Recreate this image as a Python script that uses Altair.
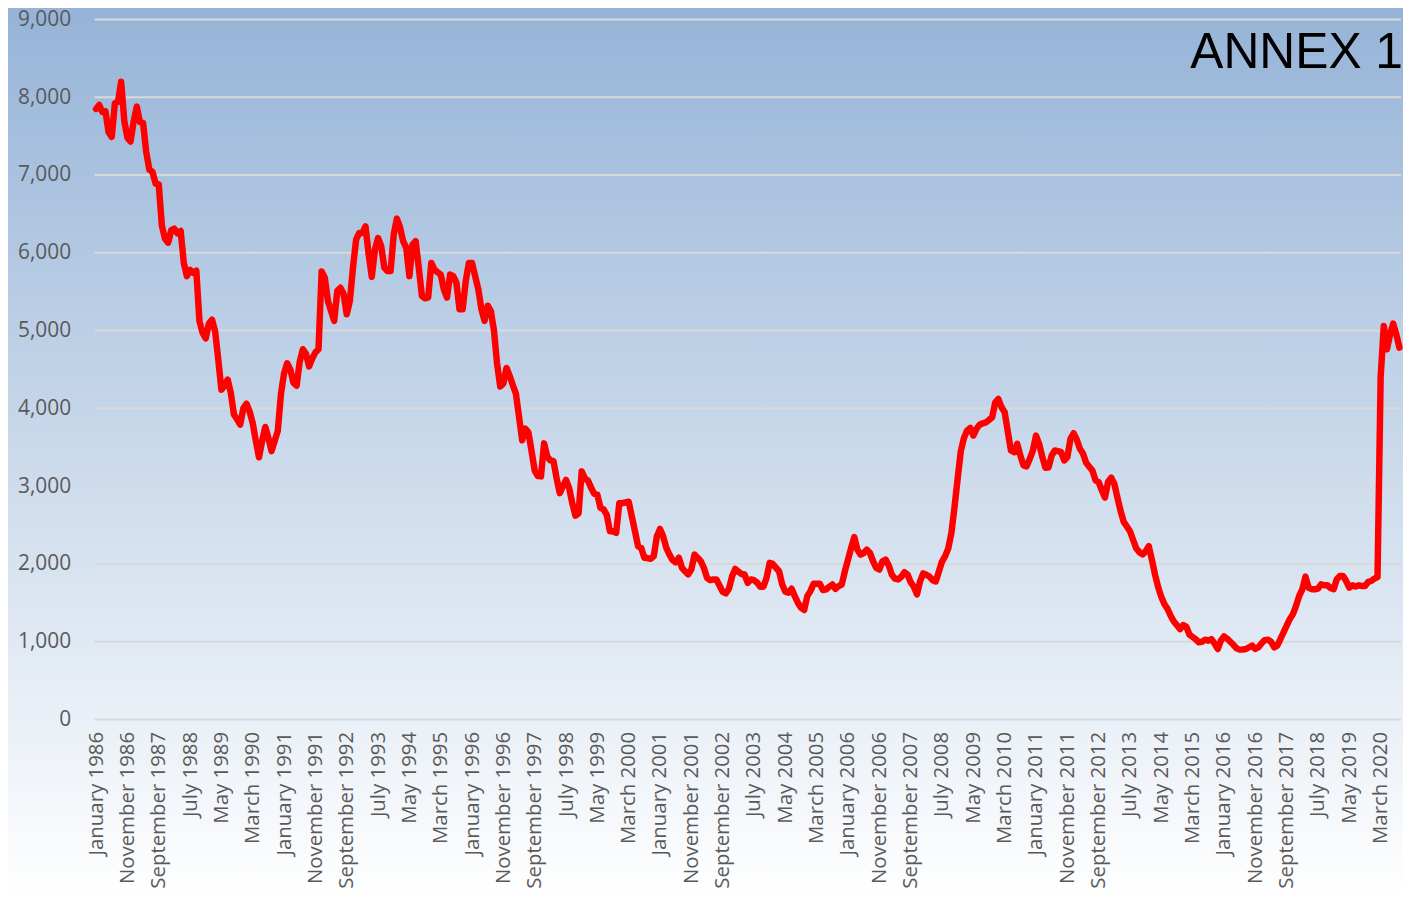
import altair as alt
import pandas as pd

# Monthly series, January 1986 .. September 2020 (one row per year)
values = [
    7850, 7900, 7810, 7820, 7550, 7490, 7920, 7940, 8200, 7700, 7480, 7430,  # 1986
    7690, 7880, 7680, 7670, 7300, 7070, 7040, 6890, 6880, 6350, 6180, 6130,  # 1987
    6290, 6310, 6250, 6280, 5870, 5700, 5780, 5740, 5770, 5120, 4970, 4900,  # 1988
    5090, 5140, 4990, 4630, 4240, 4290, 4370, 4200, 3920, 3860, 3790, 4000,  # 1989
    4060, 3960, 3810, 3580, 3370, 3580, 3760, 3620, 3450, 3580, 3710, 4180,  # 1990
    4450, 4580, 4500, 4330, 4290, 4600, 4760, 4700, 4540, 4640, 4720, 4760,  # 1991
    5760, 5680, 5380, 5250, 5125, 5510, 5550, 5470, 5210, 5380, 5810, 6170,  # 1992
    6255, 6255, 6340, 5980, 5690, 6040, 6190, 6085, 5810, 5765, 5765, 6235,  # 1993
    6440, 6330, 6150, 6065, 5700, 6105, 6150, 5810, 5445, 5415, 5425, 5870,  # 1994
    5785, 5750, 5720, 5530, 5425, 5720, 5700, 5615, 5275, 5275, 5640, 5870,  # 1995
    5870, 5700, 5530, 5275, 5125, 5320, 5250, 5000, 4570, 4280, 4320, 4520,  # 1996
    4420, 4300, 4190, 3890, 3590, 3740, 3690, 3450, 3200, 3130, 3125, 3550,  # 1997
    3380, 3330, 3320, 3100, 2910, 3000, 3080, 2975, 2780, 2620, 2650, 3190,  # 1998
    3100, 3070, 2980, 2900, 2890, 2720, 2700, 2630, 2420, 2420, 2400, 2780,  # 1999
    2780, 2790, 2800, 2610, 2420, 2225, 2205, 2080, 2075, 2065, 2100, 2355,  # 2000
    2450, 2355, 2205, 2120, 2050, 2020, 2080, 1950, 1905, 1865, 1930, 2120,  # 2001
    2080, 2035, 1950, 1820, 1790, 1800, 1800, 1720, 1640, 1620, 1680, 1840,  # 2002
    1936, 1900, 1870, 1863, 1757, 1800, 1790, 1760, 1706, 1706, 1820, 2013,  # 2003
    2000, 1950, 1906, 1735, 1642, 1629, 1680, 1586, 1501, 1437, 1407, 1586,  # 2004
    1650, 1744, 1744, 1744, 1663, 1672, 1706, 1735, 1680, 1714, 1735, 1906,  # 2005
    2055, 2205, 2345, 2183, 2119, 2140, 2183, 2140, 2034, 1949, 1928, 2034,  # 2006
    2055, 1980, 1860, 1810, 1800, 1834, 1893, 1863, 1765, 1706, 1608, 1776,  # 2007
    1878, 1860, 1838, 1790, 1774, 1902, 2030, 2100, 2200, 2400, 2733, 3100,  # 2008
    3450, 3620, 3714, 3748, 3650, 3736, 3790, 3808, 3820, 3850, 3885, 4077,  # 2009
    4120, 4013, 3949, 3700, 3458, 3437, 3544, 3394, 3267, 3254, 3350, 3458,  # 2010
    3650, 3540, 3380, 3237, 3240, 3394, 3458, 3450, 3437, 3330, 3373, 3608,  # 2011
    3680, 3600, 3480, 3420, 3300, 3250, 3200, 3075, 3053, 2947, 2853, 3053,  # 2012
    3109, 3030, 2850, 2680, 2540, 2480, 2420, 2307, 2200, 2150, 2122, 2164,  # 2013
    2228, 2050, 1860, 1700, 1576, 1482, 1420, 1330, 1260, 1210, 1162, 1213,  # 2014
    1190, 1090, 1060, 1030, 991, 1000, 1026, 1013, 1034, 975, 906, 1013,     # 2015
    1068, 1040, 1000, 960, 915, 898, 900, 906, 928, 949, 906, 928,           # 2016
    980, 1020, 1026, 1000, 928, 949, 1034, 1119, 1205, 1290, 1354, 1460,     # 2017
    1588, 1674, 1836, 1695, 1674, 1674, 1682, 1738, 1725, 1725, 1690, 1674,  # 2018
    1802, 1844, 1844, 1780, 1695, 1725, 1708, 1725, 1716, 1716, 1768, 1780,  # 2019
    1810, 1830, 4400, 5060, 4760, 4950, 5090, 4950, 4780,                    # 2020
]

first_month = "1986-01-01"

tick_labels = [
    "January 1986", "November 1986", "September 1987", "July 1988", "May 1989",
    "March 1990", "January 1991", "November 1991", "September 1992", "July 1993",
    "May 1994", "March 1995", "January 1996", "November 1996", "September 1997",
    "July 1998", "May 1999", "March 2000", "January 2001", "November 2001",
    "September 2002", "July 2003", "May 2004", "March 2005", "January 2006",
    "November 2006", "September 2007", "July 2008", "May 2009", "March 2010",
    "January 2011", "November 2011", "September 2012", "July 2013", "May 2014",
    "March 2015", "January 2016", "November 2016", "September 2017", "July 2018",
    "May 2019", "March 2020",
]

y_ticks = [0, 1000, 2000, 3000, 4000, 5000, 6000, 7000, 8000, 9000]
title_text = ["ANNEX 1"]

months = list(pd.date_range(first_month, periods=len(values), freq="MS").strftime("%B %Y"))
df = pd.DataFrame({"month": months, "value": values})

W, H = 1314, 704
FONT = "Open Sans"
LABEL_COLOR = "#595959"

y_scale = alt.Scale(domain=[0, 9000], nice=False, zero=True)
y_axis = alt.Axis(
    values=y_ticks, format=",d", title=None, grid=False, domain=False, ticks=False,
    labelFont=FONT, labelFontSize=21, labelColor=LABEL_COLOR, labelPadding=24,
    zindex=1,
)

bg = alt.Chart(pd.DataFrame({"k": [0]})).mark_rect(
    fill=alt.LinearGradient(
        gradient="linear",
        stops=[
            alt.GradientStop(color="#95B3D7", offset=0),
            alt.GradientStop(color="#FFFFFF", offset=1),
        ],
        x1=0, x2=0, y1=0, y2=1,
    )
).encode(
    x=alt.value(-100), x2=alt.value(W + 20),
    y=alt.value(-17), y2=alt.value(H + 179),
)

grid = alt.Chart(pd.DataFrame({"value": y_ticks})).mark_rule(
    color="#D9D9D9", strokeWidth=2
).encode(
    y=alt.Y("value:Q", scale=y_scale, axis=y_axis)
)

line = alt.Chart(df).mark_line(
    color="#FF0000", strokeWidth=6.5, strokeJoin="round", strokeCap="round"
).encode(
    x=alt.X(
        "month:O",
        scale=alt.Scale(type="point", padding=0.5, domain=months),
        axis=alt.Axis(
            values=tick_labels, labelAngle=-90, title=None, domain=False, ticks=False,
            grid=False, labelFont=FONT, labelFontSize=20.5, labelColor=LABEL_COLOR,
            labelPadding=12, labelOverlap=False, zindex=1,
        ),
    ),
    y=alt.Y("value:Q", scale=y_scale, axis=y_axis),
)

title = alt.Chart(pd.DataFrame({"t": title_text})).mark_text(
    align="right", baseline="alphabetic", font="Liberation Sans", fontSize=50, color="#000000"
).encode(
    x=alt.value(1316), y=alt.value(49), text="t:N"
)

chart = alt.layer(bg, grid, line, title).properties(
    width=W, height=H,
    autosize=alt.AutoSizeParams(type="none"),
    padding={"left": 87, "top": 9, "right": 2, "bottom": 171},
    background="#FFFFFF",
).configure_view(stroke=None)

chart.save("out.html", embed_options={"renderer": "svg", "actions": False})
